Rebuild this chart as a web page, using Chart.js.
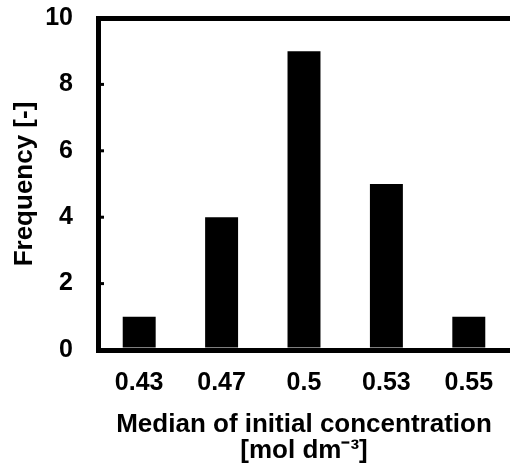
<!DOCTYPE html>
<html>
<head>
<meta charset="utf-8">
<script src="https://cdn.jsdelivr.net/npm/chart.js@4/dist/chart.umd.min.js"></script>
<style>
  html, body { margin: 0; padding: 0; background: #fff; }
  #wrap { width: 510px; height: 465px; }
</style>
</head>
<body>
<div id="wrap"><canvas id="chart"></canvas></div>
<script>
const categories = ['0.43', '0.47', '0.5', '0.53', '0.55'];
const frequency = [1, 4, 9, 5, 1];
const yTicks = [0, 2, 4, 6, 8, 10];
const xTitle = ['Median of initial concentration', '[mol dm\u207B\u00B3]'];
const yTitle = 'Frequency [-]';

const family = 'Arial, "Liberation Sans", sans-serif';
const tickFont = { family, size: 25, weight: 'bold' };
const titleFont = { family, size: 26, weight: 'bold' };

// short tick marks pointing into the plot from the y axis
const innerTicks = {
  id: 'innerTicks',
  afterDatasetsDraw(chart) {
    const y = chart.scales.y;
    const ctx = chart.ctx;
    ctx.save();
    ctx.strokeStyle = '#000';
    ctx.lineWidth = 3;
    yTicks.forEach(v => {
      if (v === 0 || v === 10) return;
      const py = y.getPixelForValue(v);
      ctx.beginPath();
      ctx.moveTo(y.right, py);
      ctx.lineTo(y.right + 6, py);
      ctx.stroke();
    });
    ctx.restore();
  }
};

new Chart(document.getElementById('chart'), {
  type: 'bar',
  data: {
    labels: categories,
    datasets: [{
      data: frequency,
      backgroundColor: '#000',
      borderWidth: 0,
      barPercentage: 0.4,
      categoryPercentage: 1
    }]
  },
  options: {
    responsive: true,
    maintainAspectRatio: false,
    animation: false,
    layout: { padding: { top: 18, right: 0, left: 0, bottom: 0 } },
    plugins: { legend: { display: false }, tooltip: { enabled: false } },
    scales: {
      x: {
        afterFit(scale) {
          scale.height = 115;
          scale.paddingLeft = 0;
          scale.paddingRight = 0;
        },
        grid: { display: false, drawTicks: false },
        border: { display: true, color: '#000', width: 5 },
        ticks: { color: '#000', font: tickFont, padding: 18, maxRotation: 0 },
        title: { display: true, text: xTitle, color: '#000', font: { ...titleFont, lineHeight: 1.0 }, padding: { top: 0, bottom: 1 } }
      },
      y: {
        min: 0,
        max: 10,
        afterFit(scale) {
          scale.width = 98;
          scale.paddingTop = 0;
          scale.paddingBottom = 0;
        },
        afterBuildTicks(scale) { scale.ticks = yTicks.map(v => ({ value: v })); },
        grid: {
          drawTicks: false,
          lineWidth: 5,
          color: ctx => (ctx.tick && ctx.tick.value === 10 ? '#000' : 'rgba(0,0,0,0)')
        },
        border: { display: true, color: '#000', width: 5 },
        ticks: { color: '#000', font: tickFont, padding: 25 },
        title: { display: true, text: yTitle, color: '#000', font: titleFont, padding: { top: 9, bottom: 0 } }
      }
    }
  },
  plugins: [innerTicks]
});
</script>
</body>
</html>
